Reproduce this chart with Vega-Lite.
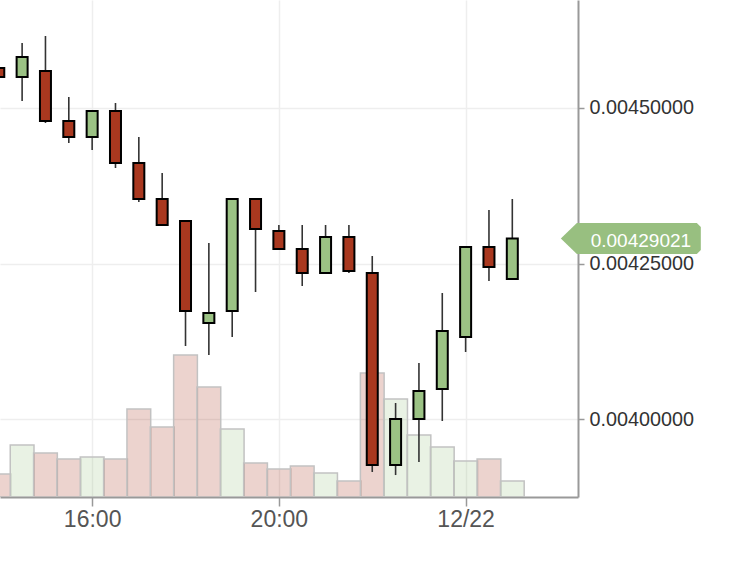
{
  "$schema": "https://vega.github.io/schema/vega-lite/v6.json",
  "width": 578,
  "height": 497,
  "padding": 0,
  "background": "white",
  "config": {"view": {"stroke": null}, "font": "Liberation Sans"},
  "data": {
    "values": [
      {"t": "2017-12-21T14:00:00", "open": 0.0045633, "high": 0.0045761, "low": 0.0045441, "close": 0.0045489, "volume": 23, "dir": "down", "vdir": "down"},
      {"t": "2017-12-21T14:30:00", "open": 0.0045489, "high": 0.0046034, "low": 0.0045104, "close": 0.0045809, "volume": 52, "dir": "up", "vdir": "up"},
      {"t": "2017-12-21T15:00:00", "open": 0.0045585, "high": 0.0046146, "low": 0.0044752, "close": 0.0044784, "volume": 44, "dir": "down", "vdir": "down"},
      {"t": "2017-12-21T15:30:00", "open": 0.0044784, "high": 0.0045168, "low": 0.0044431, "close": 0.0044527, "volume": 38, "dir": "down", "vdir": "down"},
      {"t": "2017-12-21T16:00:00", "open": 0.0044527, "high": 0.0044944, "low": 0.0044319, "close": 0.0044944, "volume": 40, "dir": "up", "vdir": "up"},
      {"t": "2017-12-21T16:30:00", "open": 0.0044944, "high": 0.0045072, "low": 0.004403, "close": 0.0044111, "volume": 38, "dir": "down", "vdir": "down"},
      {"t": "2017-12-21T17:00:00", "open": 0.0044111, "high": 0.0044527, "low": 0.0043486, "close": 0.0043534, "volume": 88, "dir": "down", "vdir": "down"},
      {"t": "2017-12-21T17:30:00", "open": 0.0043534, "high": 0.004395, "low": 0.0043117, "close": 0.0043117, "volume": 70, "dir": "down", "vdir": "down"},
      {"t": "2017-12-21T18:00:00", "open": 0.0043181, "high": 0.0043181, "low": 0.0041178, "close": 0.0041739, "volume": 142, "dir": "down", "vdir": "down"},
      {"t": "2017-12-21T18:30:00", "open": 0.0041546, "high": 0.0042829, "low": 0.0041034, "close": 0.0041707, "volume": 110, "dir": "up", "vdir": "down"},
      {"t": "2017-12-21T19:00:00", "open": 0.0041739, "high": 0.0043534, "low": 0.0041322, "close": 0.0043534, "volume": 68, "dir": "up", "vdir": "up"},
      {"t": "2017-12-21T19:30:00", "open": 0.0043534, "high": 0.0043534, "low": 0.0042043, "close": 0.0043053, "volume": 34, "dir": "down", "vdir": "down"},
      {"t": "2017-12-21T20:00:00", "open": 0.0043021, "high": 0.0043117, "low": 0.0042732, "close": 0.0042732, "volume": 28, "dir": "down", "vdir": "down"},
      {"t": "2017-12-21T20:30:00", "open": 0.0042732, "high": 0.0043117, "low": 0.0042139, "close": 0.0042348, "volume": 31, "dir": "down", "vdir": "down"},
      {"t": "2017-12-21T21:00:00", "open": 0.0042348, "high": 0.0043117, "low": 0.0042348, "close": 0.0042925, "volume": 24, "dir": "up", "vdir": "up"},
      {"t": "2017-12-21T21:30:00", "open": 0.0042925, "high": 0.0043117, "low": 0.0042348, "close": 0.004238, "volume": 16, "dir": "down", "vdir": "down"},
      {"t": "2017-12-21T22:00:00", "open": 0.0042348, "high": 0.004262, "low": 0.0039159, "close": 0.0039271, "volume": 124, "dir": "down", "vdir": "down"},
      {"t": "2017-12-21T22:30:00", "open": 0.0039271, "high": 0.0040264, "low": 0.003911, "close": 0.0040008, "volume": 98, "dir": "up", "vdir": "up"},
      {"t": "2017-12-21T23:00:00", "open": 0.0040008, "high": 0.0040905, "low": 0.0039319, "close": 0.0040457, "volume": 62, "dir": "up", "vdir": "up"},
      {"t": "2017-12-21T23:30:00", "open": 0.0040489, "high": 0.0042027, "low": 0.0039976, "close": 0.0041418, "volume": 50, "dir": "up", "vdir": "up"},
      {"t": "2017-12-22T00:00:00", "open": 0.0041322, "high": 0.0042764, "low": 0.0041082, "close": 0.0042764, "volume": 36, "dir": "up", "vdir": "up"},
      {"t": "2017-12-22T00:30:00", "open": 0.0042764, "high": 0.0043357, "low": 0.004222, "close": 0.0042444, "volume": 38, "dir": "down", "vdir": "down"},
      {"t": "2017-12-22T01:00:00", "open": 0.0042252, "high": 0.0043534, "low": 0.0042236, "close": 0.00429021, "volume": 16, "dir": "up", "vdir": "up"}
    ]
  },
  "layer": [
    {
      "mark": {"type": "bar", "size": 23.75, "clip": true, "fillOpacity": 0.22, "stroke": "#c2c2c2", "strokeWidth": 1.5},
      "encoding": {
        "x": {
          "field": "t",
          "type": "temporal",
          "title": null,
          "scale": {
            "domain": [
              {"year": 2017, "month": 12, "date": 21, "hours": 14, "minutes": 8},
              {"year": 2017, "month": 12, "date": 22, "hours": 2, "minutes": 18}
            ]
          },
          "axis": {
            "orient": "bottom",
            "title": null,
            "values": [
              {"year": 2017, "month": 12, "date": 21, "hours": 16},
              {"year": 2017, "month": 12, "date": 21, "hours": 20},
              {"year": 2017, "month": 12, "date": 22, "hours": 0}
            ],
            "labelExpr": "hours(datum.value) == 0 ? timeFormat(datum.value, '%m/%d') : timeFormat(datum.value, '%H:%M')",
            "labelFontSize": 23,
            "labelColor": "#555555",
            "labelPadding": 2,
            "tickSize": 9,
            "tickColor": "#999999",
            "tickWidth": 1.5,
            "domainColor": "#999999",
            "domainWidth": 2,
            "grid": true,
            "gridColor": "#eeeeee",
            "gridWidth": 1.5
          }
        },
        "y": {"field": "volume", "type": "quantitative", "title": null, "scale": {"domain": [0, 497], "nice": false}, "axis": null},
        "color": {"field": "vdir", "type": "nominal", "scale": {"domain": ["up", "down"], "range": ["#9bc284", "#a9381f"]}, "legend": null}
      }
    },
    {
      "layer": [
        {
          "mark": {"type": "rule", "clip": true, "color": "#333333", "strokeWidth": 1.6},
          "encoding": {
            "x": {"field": "t", "type": "temporal", "title": null},
            "y": {
              "field": "low",
              "type": "quantitative",
              "title": null,
              "scale": {"domain": [0.0038758, 0.00467228], "nice": false, "zero": false},
              "axis": {
                "orient": "right",
                "title": null,
                "values": [0.004, 0.00425, 0.0045],
                "format": ".8f",
                "labelFontSize": 19.8,
                "labelColor": "#333333",
                "labelPadding": 5,
                "tickSize": 6,
                "tickColor": "#999999",
                "tickWidth": 1.5,
                "domainColor": "#999999",
                "domainWidth": 2,
                "grid": true,
                "gridColor": "#eeeeee",
                "gridWidth": 1.5
              }
            },
            "y2": {"field": "high"}
          }
        },
        {
          "mark": {"type": "bar", "size": 11, "clip": true, "stroke": "#000000", "strokeWidth": 2},
          "encoding": {
            "x": {"field": "t", "type": "temporal", "title": null},
            "y": {"field": "open", "type": "quantitative", "title": null},
            "y2": {"field": "close"},
            "color": {"field": "dir", "type": "nominal", "scale": {"domain": ["up", "down"], "range": ["#9bc284", "#a9381f"]}, "legend": null}
          }
        },
        {
          "data": {"values": [{"tx": "2017-12-22T03:32:20", "lx": "2017-12-22T02:40:45", "price": 0.00429021, "label": "0.00429021"}]},
          "mark": {
            "type": "point",
            "shape": "M-1,0 L-0.771,-0.221 L0.943,-0.221 L1,-0.164 L1,0.164 L0.943,0.221 L-0.771,0.221 Z",
            "size": 19600,
            "filled": true,
            "opacity": 1,
            "fill": "#98bf80",
            "strokeWidth": 0
          },
          "encoding": {
            "x": {"field": "tx", "type": "temporal", "title": null},
            "y": {"field": "price", "type": "quantitative", "title": null}
          }
        },
        {
          "data": {"values": [{"tx": "2017-12-22T03:32:20", "lx": "2017-12-22T02:40:45", "price": 0.00429021, "label": "0.00429021"}]},
          "mark": {"type": "text", "align": "left", "baseline": "middle", "dy": 2.5, "fontSize": 19, "fill": "#ffffff"},
          "encoding": {
            "x": {"field": "lx", "type": "temporal", "title": null},
            "y": {"field": "price", "type": "quantitative", "title": null},
            "text": {"field": "label"}
          }
        }
      ]
    }
  ],
  "resolve": {"scale": {"y": "independent"}}
}
